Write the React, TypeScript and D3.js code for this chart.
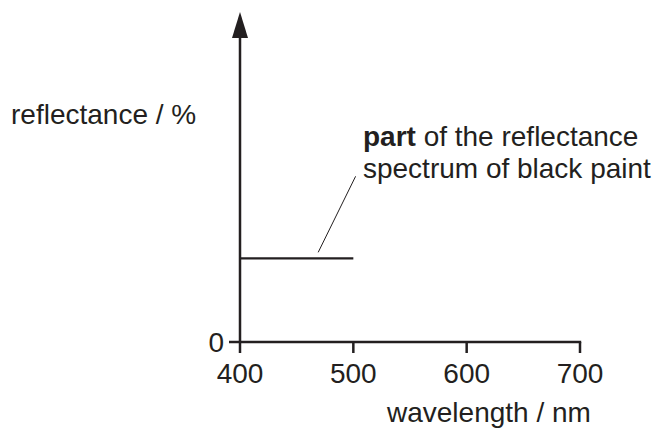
import React from 'react';
import * as d3 from 'd3';

// axis ticks
const xTicks = [400, 500, 600, 700];
const yTicks = [0];

// the drawn piece of the spectrum (wavelength / nm, reflectance / %)
const spectrumWavelength = [400, 500];
const spectrumReflectance = [27.5, 27.5];

// annotation: leader line from the spectrum up to the text
const leaderWavelength = [469, 502];
const leaderReflectance = [29.5, 54.5];
const noteWavelength = 508.5;
const noteReflectance = [64.5, 54];

const W = 666, H = 429;
const FONT = '"Liberation Sans", Arial, Helvetica, sans-serif';
const FS = 28;
const INK = '#231f20';

export default function App() {
    const x = d3.scaleLinear().domain([400, 700]).range([240, 580]);
    const y = d3.scaleLinear().domain([0, 100]).range([342, 38]);

    const line = d3.line<number>()
        .x((_, i) => x(spectrumWavelength[i]))
        .y((_, i) => y(spectrumReflectance[i]));

    const leader = d3.line<number>()
        .x((_, i) => x(leaderWavelength[i]))
        .y((_, i) => y(leaderReflectance[i]));

    const x0 = x(400), y0 = y(0), yTop = y(100);

    return (
        <svg width={W} height={H} style={{ position: 'absolute', left: 0, top: 0, background: '#fff' }}
            fontFamily={FONT} fontSize={FS} fill={INK}>
            {/* y axis with arrow head */}
            <line x1={x0} x2={x0} y1={y0} y2={yTop} stroke={INK} strokeWidth={2.5} />
            <path d={`M${x0},${yTop - 26}L${x0 + 8},${yTop}L${x0 - 8},${yTop}Z`} fill={INK} />
            {/* x axis */}
            <line x1={x0 - 1} x2={x(700) + 1.2} y1={y0} y2={y0} stroke={INK} strokeWidth={2.5} />

            {xTicks.map(t => (
                <g key={t} transform={`translate(${x(t)},${y0})`}>
                    <line y1={0} y2={11} stroke={INK} strokeWidth={2.5} />
                    <text y={41} textAnchor="middle">{t}</text>
                </g>
            ))}
            {yTicks.map(t => (
                <g key={t} transform={`translate(${x0},${y(t)})`}>
                    <line x1={-11} x2={0} stroke={INK} strokeWidth={2.5} />
                    <text x={-16} dy="0.35em" textAnchor="end">{t}</text>
                </g>
            ))}

            {/* axis titles */}
            <text x={11} y={124}>reflectance / %</text>
            <text x={387} y={422}>wavelength / nm</text>

            {/* data */}
            <path d={line(spectrumWavelength) || ''} fill="none" stroke={INK} strokeWidth={2.2} />

            {/* annotation */}
            <path d={leader(leaderWavelength) || ''} fill="none" stroke={INK} strokeWidth={1} />
            <text x={x(noteWavelength)} y={y(noteReflectance[0])}>
                <tspan fontWeight="bold">part</tspan> of the reflectance
            </text>
            <text x={x(noteWavelength)} y={y(noteReflectance[1])}>spectrum of black paint</text>
        </svg>
    );
}
